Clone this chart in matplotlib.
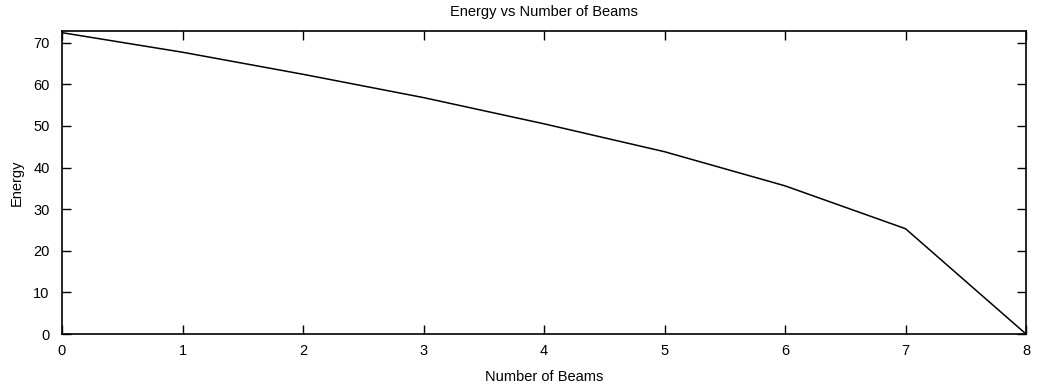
import matplotlib
matplotlib.use("Agg")
import matplotlib.pyplot as plt

# Energy remaining for each number of beams
beams = [0, 1, 2, 3, 4, 5, 6, 7, 8]
energy = [72.4, 67.7, 62.4, 56.8, 50.5, 43.8, 35.6, 25.3, 0.0]

x_ticks = [0, 1, 2, 3, 4, 5, 6, 7, 8]
y_ticks = [0, 10, 20, 30, 40, 50, 60, 70]

plt.rcParams['font.family'] = ['Liberation Sans', 'DejaVu Sans']

fig = plt.figure(figsize=(10.39, 3.87), dpi=100)
ax = fig.add_axes([62 / 1039, 53 / 387, (1026 - 62) / 1039, (334 - 31) / 387])

ax.plot(beams, energy, color='black', linewidth=1.1)

ax.set_xlim(0, 8)
ax.set_ylim(0, 72.8)
ax.set_xticks(x_ticks)
ax.set_yticks(y_ticks)
ax.tick_params(direction='in', length=6.5, width=1.0, top=True, right=True,
               labelsize=10.5)
ax.tick_params(axis='y', pad=9)
ax.tick_params(axis='x', labeltop=False, pad=7)
for s in ax.spines.values():
    s.set_linewidth(1.2)

ax.set_title('Energy vs Number of Beams', fontsize=10.5, pad=10.5)
ax.set_xlabel('Number of Beams', fontsize=10.5, labelpad=9)
ax.set_ylabel('Energy', fontsize=10.5, labelpad=7)

fig.savefig('out.png', dpi=100)
